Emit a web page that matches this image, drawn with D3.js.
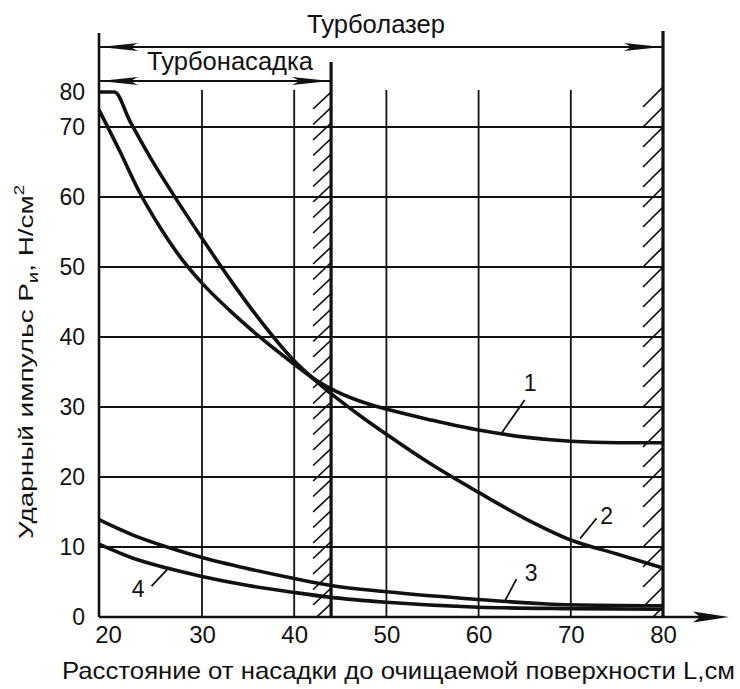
<!DOCTYPE html>
<html><head><meta charset="utf-8">
<script src="https://cdn.jsdelivr.net/npm/d3@7"></script>
<style>
html,body{margin:0;padding:0;background:#fff;}
svg{display:block;}
text{font-family:"Liberation Sans", Arial, sans-serif; fill:#111;}
</style></head><body>
<svg id="chart" width="740" height="689"></svg>
<script>
// ---- data ----
const xTicks = [20, 30, 40, 50, 60, 70, 80];
const yTicks = [0, 10, 20, 30, 40, 50, 60, 70, 80];
const gridX = [30, 40, 50, 60, 70];
const gridY = [10, 20, 30, 40, 50, 60, 70];

const curve1L = [20, 21.5, 23, 25, 27.5, 30, 33, 36, 38, 40, 42, 44, 47, 50, 55, 60, 65, 70, 75, 80];
const curve1P = [80, 80, 71.7, 65.6, 59.7, 54.1, 48.3, 42.9, 39.6, 36.6, 34.2, 32.6, 30.9, 29.7, 28.1, 26.7, 25.7, 25.1, 24.9, 24.9];

const curve2L = [20, 22, 24, 26, 28, 30, 33, 36, 40, 42, 44, 47, 50, 55, 60, 65, 70, 75, 80];
const curve2P = [74.9, 66.6, 60.5, 55.5, 51.2, 47.7, 43.8, 40.3, 36.1, 34.1, 31.9, 28.9, 26.1, 21.7, 17.8, 14.1, 11.0, 9.0, 7.0];

const curve3L = [20, 23.3, 26.6, 30, 35, 40, 44, 50, 60, 67, 70, 80];
const curve3P = [13.9, 11.7, 10.0, 8.5, 6.9, 5.5, 4.5, 3.6, 2.5, 1.9, 1.75, 1.6];

const curve4L = [20, 23.3, 26.6, 30, 35, 40, 44, 50, 60, 70, 80];
const curve4P = [10.4, 8.4, 7.0, 5.8, 4.5, 3.5, 2.8, 2.1, 1.4, 1.2, 1.1];

const curveLabels = ["1", "2", "3", "4"];
const labelL = [65.6, 73.9, 65.7, 23.8];
const labelP = [33.4, 14.5, 6.3, 4.0];
const leaderFromL = [62.5, 71.0, 62.9, 25.1];
const leaderFromP = [26.3, 11.2, 2.4, 4.4];
const leaderToL = [65.0, 72.8, 64.1, 26.7];
const leaderToP = [31.0, 14.1, 5.4, 6.9];

const zoneNames = ["Турболазер", "Турбонасадка"];
const zoneStart = [20, 20];
const zoneEnd = [80, 44];

const xTitle = "Расстояние от насадки до очищаемой поверхности L,см";
const yTitleMain = "Ударный импульс  P";
const yTitleSub = "и";
const yTitleUnit = ", Н/см";
const yTitleSup = "2";

// ---- drawing ----
const svg = d3.select("#chart");
const ink = "#111";

const x = d3.scaleLinear().domain([20, 30, 80]).range([99, 202, 663]);
const y = d3.scaleLinear().domain([0, 70, 80]).range([617, 127, 92]);

// grid
svg.append("g").selectAll("line").data(gridY).join("line")
  .attr("x1", x(20)).attr("x2", x(80))
  .attr("y1", d => y(d)).attr("y2", d => y(d))
  .attr("stroke", ink).attr("stroke-width", 1.8);
svg.append("g").selectAll("line").data(gridX).join("line")
  .attr("x1", d => x(d)).attr("x2", d => x(d))
  .attr("y1", y(0)).attr("y2", y(80) - 2)
  .attr("stroke", ink).attr("stroke-width", 1.8);

// hatching along boundaries
const hatchSpec = [
  {L: 44, top: y(80) + 17, step: 15.5, dx: 18, dy: 17, clipTop: y(80)},
  {L: 80, top: y(80) + 15, step: 20, dx: 20, dy: 20, clipTop: y(80) - 5}
];
const defs = svg.append("defs");
hatchSpec.forEach((h, i) => {
  const xb = x(h.L);
  defs.append("clipPath").attr("id", "hc" + i).append("rect")
    .attr("x", xb - h.dx - 2).attr("y", h.clipTop)
    .attr("width", h.dx + 2).attr("height", y(0) - h.clipTop);
  const ys = d3.range(h.top, y(0) + h.dy + 1, h.step);
  svg.append("g").attr("clip-path", `url(#hc${i})`)
    .selectAll("line").data(ys).join("line")
    .attr("x1", xb - h.dx).attr("y1", d => d)
    .attr("x2", xb).attr("y2", d => d - h.dy)
    .attr("stroke", ink).attr("stroke-width", 1.7);
});

// boundary vertical lines
svg.append("line").attr("x1", x(44)).attr("x2", x(44)).attr("y1", 62).attr("y2", y(0))
  .attr("stroke", ink).attr("stroke-width", 3.2);
svg.append("line").attr("x1", x(80)).attr("x2", x(80)).attr("y1", 31).attr("y2", y(0))
  .attr("stroke", ink).attr("stroke-width", 3.2);
// y axis line
svg.append("line").attr("x1", x(20)).attr("x2", x(20)).attr("y1", 33).attr("y2", y(0))
  .attr("stroke", ink).attr("stroke-width", 2.6);
// x axis line with arrow
svg.append("line").attr("x1", x(20)).attr("x2", 712).attr("y1", y(0)).attr("y2", y(0))
  .attr("stroke", ink).attr("stroke-width", 2.6);

function arrowHead(tipX, tipY, dir, len, hw) {
  const p = d3.path();
  p.moveTo(tipX, tipY);
  p.lineTo(tipX - dir * len, tipY - hw);
  p.lineTo(tipX - dir * len * 0.8, tipY);
  p.lineTo(tipX - dir * len, tipY + hw);
  p.closePath();
  svg.append("path").attr("d", p.toString()).attr("fill", ink);
}
arrowHead(729, y(0), 1, 36, 5.5);

// dimension arrows
const dimY = [47, 81];
zoneNames.forEach((name, i) => {
  const x0 = x(zoneStart[i]), x1 = x(zoneEnd[i]);
  svg.append("line").attr("x1", x0).attr("x2", x1).attr("y1", dimY[i]).attr("y2", dimY[i])
    .attr("stroke", ink).attr("stroke-width", 2);
  arrowHead(x0 + 1, dimY[i], -1, 38, 4);
  arrowHead(x1 - 1, dimY[i], 1, 38, 4);
});
svg.append("text").attr("x", 307).attr("y", 33)
  .attr("font-size", 25).attr("textLength", 138).attr("lengthAdjust", "spacingAndGlyphs").text(zoneNames[0]);
svg.append("text").attr("x", 147).attr("y", 70)
  .attr("font-size", 25).attr("textLength", 166).attr("lengthAdjust", "spacingAndGlyphs").text(zoneNames[1]);

// axes tick labels
const xAxis = svg.append("g").attr("transform", `translate(0,${y(0)})`)
  .call(d3.axisBottom(x).tickValues(xTicks).tickSize(0).tickPadding(9).tickFormat(d3.format("d")));
xAxis.select(".domain").remove();
xAxis.selectAll("text").attr("font-size", 24).attr("font-family", "Liberation Sans, Arial, sans-serif")
  .attr("fill", ink).attr("dx", d => d === 20 ? 9 : 0);

const yAxis = svg.append("g").attr("transform", `translate(${x(20)},0)`)
  .call(d3.axisLeft(y).tickValues(yTicks).tickSize(0).tickPadding(14).tickFormat(d3.format("d")));
yAxis.select(".domain").remove();
yAxis.selectAll("text").attr("font-size", 23).attr("font-family", "Liberation Sans, Arial, sans-serif")
  .attr("fill", ink);

// curves
const line = d3.line().x(d => x(d[0])).y(d => y(d[1])).curve(d3.curveMonotoneX);
const series = [[curve1L, curve1P], [curve2L, curve2P], [curve3L, curve3P], [curve4L, curve4P]];
series.forEach(([Ls, Ps]) => {
  svg.append("path").attr("d", line(d3.zip(Ls, Ps)))
    .attr("fill", "none").attr("stroke", ink).attr("stroke-width", 3.6)
    .attr("stroke-linejoin", "round");
});

// curve labels with leaders
curveLabels.forEach((lab, i) => {
  svg.append("line").attr("x1", x(leaderFromL[i])).attr("y1", y(leaderFromP[i]))
    .attr("x2", x(leaderToL[i])).attr("y2", y(leaderToP[i]))
    .attr("stroke", ink).attr("stroke-width", 1.8);
  svg.append("text").attr("x", x(labelL[i])).attr("y", y(labelP[i]))
    .attr("dy", "0.36em").attr("text-anchor", "middle").attr("font-size", 23).text(lab);
});

// axis titles
svg.append("text").attr("x", 62).attr("y", 679)
  .attr("font-size", 24).attr("textLength", 673).attr("lengthAdjust", "spacingAndGlyphs").text(xTitle);

const yt = svg.append("text").attr("transform", "translate(33,362) rotate(-90) scale(1.33,1)")
  .attr("text-anchor", "middle").attr("font-size", 21);
yt.append("tspan").text(yTitleMain);
yt.append("tspan").attr("font-size", 15).attr("dy", 5).text(yTitleSub);
yt.append("tspan").attr("dy", -5).text(yTitleUnit);
yt.append("tspan").attr("font-size", 14).attr("dy", -9).text(yTitleSup);
</script>
</body></html>
